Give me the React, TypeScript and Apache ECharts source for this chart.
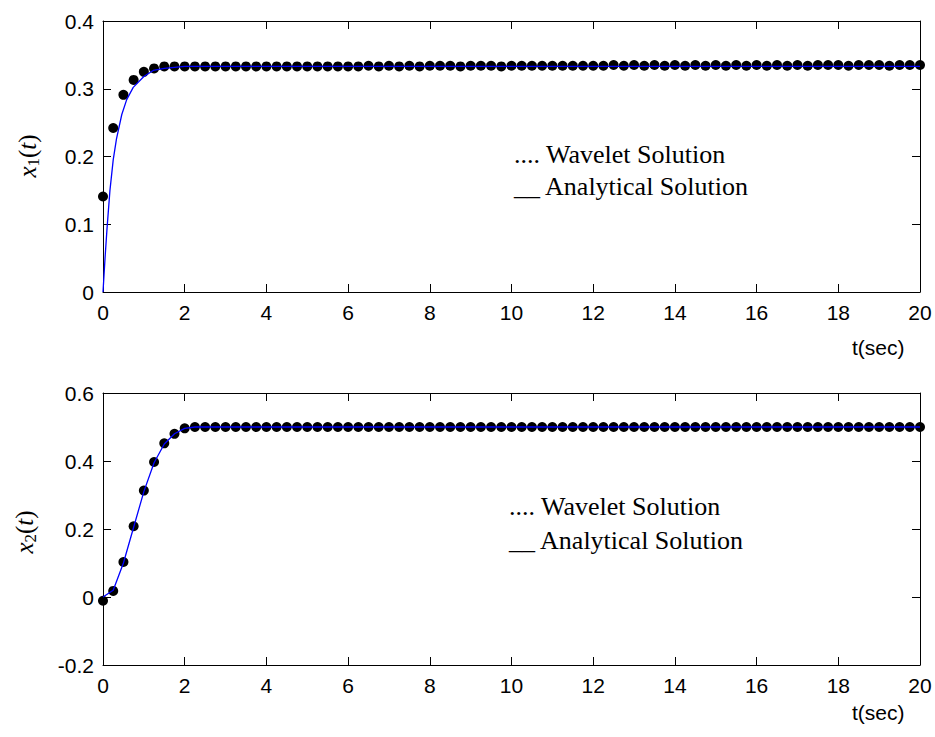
import React, { useEffect, useRef } from "react";
import * as echarts from "echarts";

// Time grid of the wavelet (dotted) solution, step 0.25 s from 0 to 20
const tWave: number[] = Array.from({ length: 81 }, (_, i) => i * 0.25);

// x1(t) wavelet solution values (one per tWave point)
const wave1: number[] = [
  0.141, 0.242, 0.291, 0.313, 0.325, 0.330, 0.333, 0.333, 0.333, 0.333,
  0.333, 0.333, 0.333, 0.333, 0.333, 0.333, 0.333, 0.333, 0.333, 0.333,
  0.333, 0.333, 0.333, 0.333, 0.333, 0.333, 0.334, 0.333, 0.334, 0.333,
  0.334, 0.333, 0.334, 0.334, 0.334, 0.333, 0.334, 0.334, 0.334, 0.333,
  0.334, 0.334, 0.334, 0.334, 0.334, 0.334, 0.334, 0.334, 0.334, 0.334,
  0.335, 0.334, 0.335, 0.334, 0.335, 0.334, 0.335, 0.334, 0.335, 0.334,
  0.335, 0.334, 0.335, 0.334, 0.335, 0.334, 0.335, 0.334, 0.335, 0.334,
  0.335, 0.335, 0.335, 0.334, 0.335, 0.335, 0.335, 0.334, 0.335, 0.335,
  0.335,
];

// x2(t) wavelet solution values
const wave2: number[] = [
  -0.011, 0.018, 0.103, 0.208, 0.313, 0.397, 0.452, 0.480, 0.496, 0.5,
  0.5, 0.5, 0.5, 0.5, 0.5, 0.5, 0.5, 0.5, 0.5, 0.5,
  0.5, 0.5, 0.5, 0.5, 0.5, 0.5, 0.5, 0.5, 0.5, 0.5,
  0.5, 0.5, 0.5, 0.5, 0.5, 0.5, 0.5, 0.5, 0.5, 0.5,
  0.5, 0.5, 0.5, 0.5, 0.5, 0.5, 0.5, 0.5, 0.5, 0.5,
  0.5, 0.5, 0.5, 0.5, 0.5, 0.5, 0.5, 0.5, 0.5, 0.5,
  0.5, 0.5, 0.5, 0.5, 0.5, 0.5, 0.5, 0.5, 0.5, 0.5,
  0.5, 0.5, 0.5, 0.5, 0.5, 0.5, 0.5, 0.5, 0.5, 0.5,
  0.5,
];

// Analytical solution x1(t)
const tAna1: number[] = [0, 0.05, 0.1, 0.17, 0.25, 0.33, 0.46, 0.58, 0.74, 1.0, 1.23, 1.5, 2, 20];
const ana1: number[] = [0, 0.05, 0.095, 0.15, 0.195, 0.226, 0.262, 0.284, 0.302, 0.318, 0.327, 0.330, 0.333, 0.333];

// Analytical solution x2(t)
const tAna2: number[] = [0, 0.25, 0.5, 0.75, 1.0, 1.25, 1.5, 1.75, 2.0, 2.25, 20];
const ana2: number[] = [0, 0.02, 0.1, 0.205, 0.31, 0.395, 0.45, 0.48, 0.496, 0.5, 0.5];

// Axis ranges / tick steps
const xRange = { min: 0, max: 20, interval: 2 };
const y1Range = { min: 0, max: 0.4, interval: 0.1 };
const y2Range = { min: -0.2, max: 0.6, interval: 0.2 };

const legendWave = ".... Wavelet Solution";
const legendAna = "__ Analytical Solution";
const xName = "t(sec)";

const SANS = "'Liberation Sans', Arial, sans-serif";
const SERIF = "'Liberation Serif', 'Times New Roman', serif";

export default function App() {
  const ref = useRef<HTMLDivElement>(null);

  useEffect(() => {
    if (!ref.current) return;
    const chart = echarts.init(ref.current, null, { renderer: "svg" });

    const axisLine = { show: true, onZero: false, lineStyle: { color: "#000", width: 1 } };
    const tickIn = { show: true, inside: true, length: 8, lineStyle: { color: "#000", width: 1 } };
    const labelStyle = { color: "#000", fontFamily: SANS, fontSize: 21 };

    const mkX = (gridIndex: number, position: "top" | "bottom", showLabel: boolean) => ({
      type: "value",
      gridIndex,
      position,
      ...xRange,
      axisLine,
      axisTick: tickIn,
      axisLabel: { show: showLabel, margin: 10, ...labelStyle },
      splitLine: { show: false },
    });
    const mkY = (gridIndex: number, position: "left" | "right", range: any, showLabel: boolean) => ({
      type: "value",
      gridIndex,
      position,
      ...range,
      axisLine,
      axisTick: tickIn,
      axisLabel: { show: showLabel, margin: 9, ...labelStyle },
      splitLine: { show: false },
    });

    const yLabel = (sub: string, x: number, y: number) => ({
      type: "text",
      x,
      y,
      rotation: Math.PI / 2,
      style: {
        text: `{i|x}{s|${sub}}{n|(}{i|t}{n|)}`,
        align: "center",
        verticalAlign: "middle",
        fill: "#000",
        rich: {
          i: { fontFamily: SERIF, fontStyle: "italic", fontSize: 25, fill: "#000", lineHeight: 30, verticalAlign: "middle" },
          n: { fontFamily: SERIF, fontSize: 25, fill: "#000", lineHeight: 30, verticalAlign: "middle" },
          s: { fontFamily: SERIF, fontSize: 17, fill: "#000", lineHeight: 30, verticalAlign: "bottom" },
        },
      },
    });

    const txt = (text: string, x: number, y: number, font: string, size: number) => ({
      type: "text",
      x,
      y,
      style: { text, fill: "#000", fontFamily: font, fontSize: size, align: "left", verticalAlign: "middle" },
    });

    const dotStyle = { color: "#000", opacity: 1 };

    chart.setOption({
      animation: false,
      backgroundColor: "#fff",
      grid: [
        { left: 103, top: 21, width: 817, height: 271 },
        { left: 103, top: 393, width: 817, height: 272 },
      ],
      xAxis: [mkX(0, "bottom", true), mkX(0, "top", false), mkX(1, "bottom", true), mkX(1, "top", false)],
      yAxis: [
        mkY(0, "left", y1Range, true),
        mkY(0, "right", y1Range, false),
        mkY(1, "left", y2Range, true),
        mkY(1, "right", y2Range, false),
      ],
      series: [
        {
          type: "scatter",
          xAxisIndex: 0,
          yAxisIndex: 0,
          symbol: "circle",
          symbolSize: 10,
          itemStyle: dotStyle,
          data: tWave.map((t, i) => [t, wave1[i]]),
          z: 2,
        },
        {
          type: "line",
          xAxisIndex: 0,
          yAxisIndex: 0,
          showSymbol: false,
          symbol: "none",
          lineStyle: { color: "#0000ff", width: 1.3 },
          data: tAna1.map((t, i) => [t, ana1[i]]),
          z: 3,
        },
        {
          type: "scatter",
          xAxisIndex: 2,
          yAxisIndex: 2,
          symbol: "circle",
          symbolSize: 10,
          itemStyle: dotStyle,
          data: tWave.map((t, i) => [t, wave2[i]]),
          z: 2,
        },
        {
          type: "line",
          xAxisIndex: 2,
          yAxisIndex: 2,
          showSymbol: false,
          symbol: "none",
          lineStyle: { color: "#0000ff", width: 1.3 },
          data: tAna2.map((t, i) => [t, ana2[i]]),
          z: 3,
        },
      ],
      graphic: [
        yLabel("1", 27, 156),
        yLabel("2", 24, 532),
        txt(xName, 852, 347, SANS, 21),
        txt(xName, 852, 712, SANS, 21),
        txt(legendWave, 514, 154, SERIF, 26),
        txt(legendAna, 514, 186, SERIF, 26),
        txt(legendWave, 509, 506, SERIF, 26),
        txt(legendAna, 509, 540, SERIF, 26),
      ],
    });

    return () => chart.dispose();
  }, []);

  return <div ref={ref} style={{ position: "absolute", left: 0, top: 0, width: 935, height: 737 }} />;
}
